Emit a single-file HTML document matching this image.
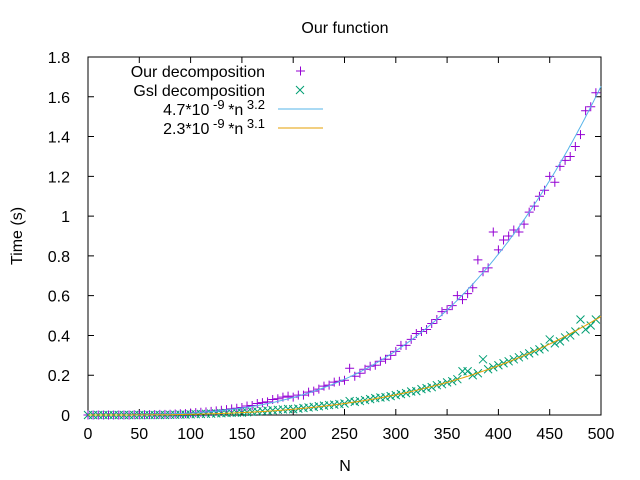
<!DOCTYPE html>
<html><head><meta charset="utf-8"><style>
body{margin:0;background:#fff}
svg{display:block;font-family:"Liberation Sans",sans-serif}
</style></head><body>
<svg id="c" width="640" height="480">
<text x="345" y="33" text-anchor="middle" font-size="16">Our function</text>
<text x="345" y="471" text-anchor="middle" font-size="16">N</text>
<text transform="translate(22,236) rotate(-90)" text-anchor="middle" font-size="16">Time (s)</text>
<g id="legend" font-size="16">
<text x="265" y="77" text-anchor="end">Our decomposition</text>
<text x="265" y="96" text-anchor="end">Gsl decomposition</text>
<text x="265" y="115" text-anchor="end">4.7*10<tspan dy="-6" font-size="13"> -9 </tspan><tspan dy="6">*n</tspan><tspan dy="-6" font-size="13"> 3.2</tspan></text>
<text x="265" y="134" text-anchor="end">2.3*10<tspan dy="-6" font-size="13"> -9 </tspan><tspan dy="6">*n</tspan><tspan dy="-6" font-size="13"> 3.1</tspan></text>
<path d="M296,71h9M300.5,66.5v9" stroke="#9400d3"/>
<path d="M296,86l8,8M304,86l-8,8" stroke="#009e73"/>
<line x1="278" y1="109" x2="323" y2="109" stroke="#56b4e9"/>
<line x1="278" y1="128" x2="323" y2="128" stroke="#e69f00"/>
</g>
</svg>
<script>
const xTicks=[0,50,100,150,200,250,300,350,400,450,500];
const yTicks=[0,0.2,0.4,0.6,0.8,1,1.2,1.4,1.6,1.8];
const ns=[];for(let i=0;i<100;i++)ns.push(i*5);
const ourValues=[0,0,0,0,0,0,0,0,0,0.001,0.001,0.001,0.002,0.002,0.003,0.003,0.004,0.005,0.006,0.007,
0.01,0.012,0.014,0.016,0.018,0.021,0.024,0.027,0.031,0.034,
0.038,0.045,0.048,0.058,0.062,0.066,0.078,0.082,0.09,0.095,
0.09,0.1,0.1,0.115,0.12,0.13,0.145,0.15,0.165,0.17,
0.175,0.235,0.195,0.21,0.23,0.245,0.25,0.27,0.28,0.3,
0.32,0.35,0.35,0.38,0.41,0.42,0.43,0.46,0.48,0.52,
0.53,0.55,0.6,0.58,0.61,0.64,0.78,0.72,0.74,0.92,
0.83,0.88,0.9,0.93,0.92,0.96,1.02,1.05,1.1,1.13,
1.2,1.17,1.25,1.28,1.3,1.35,1.41,1.53,1.55,1.62];
const gslValues=[0,0,0,0,0,0,0,0,0,0,0,0,0,0,0,0,0.001,0.001,0.002,0.002,
0.003,0.004,0.005,0.006,0.007,0.008,0.009,0.01,0.011,0.012,
0.012,0.014,0.016,0.018,0.02,0.022,0.024,0.026,0.028,0.03,
0.029,0.032,0.035,0.038,0.041,0.044,0.047,0.05,0.052,0.055,
0.058,0.07,0.066,0.07,0.075,0.08,0.085,0.088,0.09,0.095,
0.1,0.105,0.11,0.118,0.12,0.13,0.135,0.14,0.15,0.155,
0.164,0.17,0.18,0.22,0.22,0.2,0.21,0.28,0.23,0.24,
0.25,0.26,0.27,0.28,0.29,0.3,0.31,0.32,0.33,0.34,
0.38,0.36,0.37,0.39,0.4,0.42,0.48,0.43,0.45,0.48];
const fit1=[1.6,495,3.2];
const fit2=[0.48,495,3.1];
const L=88,R=601,T=57,B=415;
const sx=v=>L+(v-0)/(500-0)*(R-L);
const sy=v=>B-(v-0)/(1.8-0)*(B-T);
const svg=document.getElementById('c');
const NS='http://www.w3.org/2000/svg';
function mk(tag,attrs){const e=document.createElementNS(NS,tag);for(const k in attrs)e.setAttribute(k,attrs[k]);svg.appendChild(e);return e;}
const frame=mk('rect',{x:L,y:T,width:R-L,height:B-T,fill:'none',stroke:'#000'});


xTicks.forEach(t=>{
 const x=sx(t);
 const tk=mk('path',{d:`M${x},${B}v-6M${x},${T}v6`,stroke:'#000'});
 
 
 const lb=mk('text',{x:x,y:B+24,'text-anchor':'middle','font-size':16});
 lb.textContent=t;
 
 
});
yTicks.forEach(t=>{
 const y=sy(t);
 const tk=mk('path',{d:`M${L},${y}h6M${R},${y}h-6`,stroke:'#000'});
 
 
 const lb=mk('text',{x:L-18,y:y+6,'text-anchor':'end','font-size':16});
 lb.textContent=(t===0?'0':(Number.isInteger(t)?String(t):t.toFixed(1)));
 
 
});
function curve(p,color,name){
 let d='';for(let n=0;n<=500;n+=2){const v=p[0]*Math.pow(n/p[1],p[2]);if(v>1.8)break;d+=(d?'L':'M')+sx(n).toFixed(1)+','+sy(v).toFixed(1);}
 const e=mk('path',{d:d,fill:'none',stroke:color,'stroke-width':1});
 
 
}
ourValues.forEach((v,i)=>{
 const x=sx(ns[i]),y=sy(v);
 const e=mk('path',{d:`M${x-4.5},${y}h9M${x},${y-4.5}v9`,stroke:'#9400d3'});
 
 
});
gslValues.forEach((v,i)=>{
 const x=sx(ns[i]),y=sy(v);
 const e=mk('path',{d:`M${x-4},${y-4}l8,8M${x+4},${y-4}l-8,8`,stroke:'#009e73'});
 
 
});
curve(fit1,'#56b4e9','fit-curve-our');
curve(fit2,'#e69f00','fit-curve-gsl');
</script>
</body></html>
